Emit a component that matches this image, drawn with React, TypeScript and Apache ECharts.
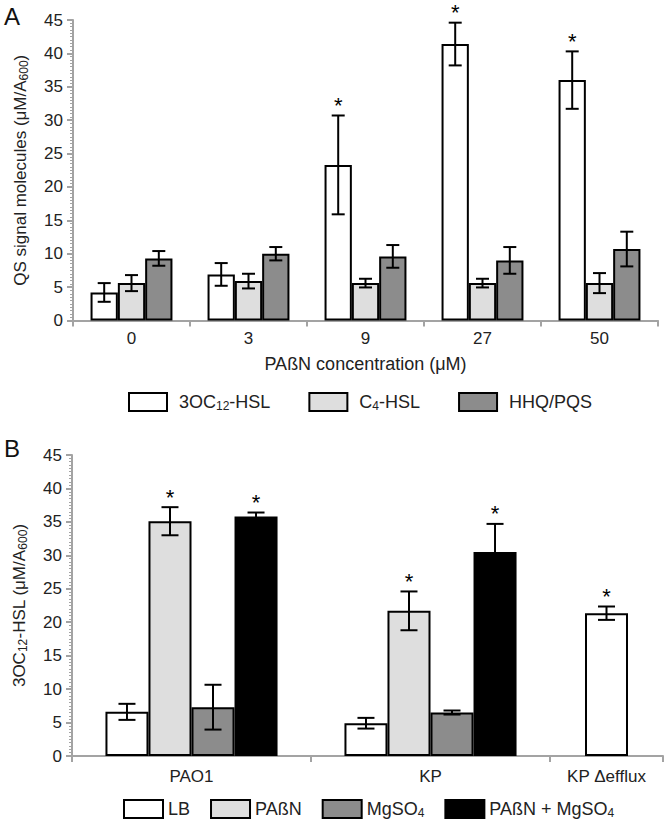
import React, { useEffect, useRef } from "react";
import * as echarts from "echarts";

const FONT = "'Liberation Sans', Arial, sans-serif";

// Panel A
const catsA = ["0", "3", "9", "27", "50"];
const oc12A = [4.2, 6.9, 23.3, 41.4, 36.0];
const oc12ErrA = [1.4, 1.7, 7.4, 3.2, 4.3];
const oc12SigA = [0, 0, 1, 1, 1];
const c4A = [5.6, 5.9, 5.6, 5.6, 5.6];
const c4ErrA = [1.2, 1.1, 0.65, 0.65, 1.5];
const c4SigA = [0, 0, 0, 0, 0];
const hhqA = [9.3, 10.0, 9.6, 9.0, 10.7];
const hhqErrA = [1.1, 1.0, 1.7, 2.0, 2.6];
const hhqSigA = [0, 0, 0, 0, 0];
const seriesNamesA = ["3OC12-HSL", "C4-HSL", "HHQ/PQS"];

// Panel B
const catsB = ["PAO1", "KP"];
const lbB = [6.6, 4.9];
const lbErrB = [1.2, 0.8];
const lbSigB = [0, 0];
const pabnB = [35.1, 21.7];
const pabnErrB = [2.1, 2.9];
const pabnSigB = [1, 1];
const mgB = [7.3, 6.5];
const mgErrB = [3.35, 0.3];
const mgSigB = [0, 0];
const bothB = [35.8, 30.5];
const bothErrB = [0.6, 4.2];
const bothSigB = [1, 1];
const catsB2 = ["KP \u0394efflux"];
const lbB2 = [21.35];
const lbErrB2 = [1.0];
const lbSigB2 = [1];
const seriesNamesB = ["LB", "PA\u00dfN", "MgSO4", "PA\u00dfN + MgSO4"];

const yTicks = { min: 0, max: 45, interval: 5 };

const colors = {
  white: "#ffffff",
  light: "#dedede",
  dark: "#8c8c8c",
  black: "#000000",
};

function errSeries(
  axisIdx: number,
  vals: number[],
  errs: number[],
  sigs: number[],
  k: number,
  n: number,
  gap: number,
  capW: number
) {
  return {
    type: "custom",
    xAxisIndex: axisIdx,
    yAxisIndex: axisIdx,
    z: 5,
    silent: true,
    encode: { x: 0, y: 1 },
    data: vals.map((v, i) => [i, v, errs[i], sigs[i]]),
    renderItem: (params: any, api: any) => {
      const ci = api.value(0);
      const v = api.value(1);
      const e = api.value(2);
      const s = api.value(3);
      const c = api.coord([ci, v]);
      const catW = api.size([1, 0])[0];
      const groupW = catW * (1 - gap);
      const bw = n === 1 ? groupW : groupW / n;
      const x = n === 1 ? c[0] : c[0] - groupW / 2 + (k + 0.5) * bw;
      const top = api.coord([ci, v + e])[1];
      const bot = api.coord([ci, v - e])[1];
      const ls = { stroke: "#000", lineWidth: 2 };
      const children: any[] = [
        { type: "line", shape: { x1: x, y1: top, x2: x, y2: bot }, style: ls },
        { type: "line", shape: { x1: x - capW / 2, y1: top, x2: x + capW / 2, y2: top }, style: ls },
        { type: "line", shape: { x1: x - capW / 2, y1: bot, x2: x + capW / 2, y2: bot }, style: ls },
      ];
      if (s) {
        children.push({
          type: "text",
          style: {
            text: "*",
            x: x,
            y: top + 1,
            align: "center",
            verticalAlign: "bottom",
            fontSize: 22,
            fontFamily: FONT,
            fill: "#000",
          },
        });
      }
      return { type: "group", children };
    },
  };
}

function barSeries(name: string, axisIdx: number, data: number[], color: string, gap: string, barWidth?: number) {
  const s: any = {
    name,
    type: "bar",
    xAxisIndex: axisIdx,
    yAxisIndex: axisIdx,
    data,
    barGap: "0%",
    barCategoryGap: gap,
    itemStyle: { color, borderColor: "#000", borderWidth: 2 },
  };
  if (barWidth) s.barWidth = barWidth;
  return s;
}

const axisGray = "#a3a3a3";
const labelColor = "#222";

function yAxis(gridIndex: number, name: string, show = true) {
  return {
    type: "value",
    gridIndex,
    show,
    ...yTicks,
    name,
    nameLocation: "middle",
    nameGap: 43,
    nameTextStyle: {
      fontSize: 17,
      color: labelColor,
      fontFamily: FONT,
      lineHeight: 20,
      rich: {
        sub: { fontSize: 12, lineHeight: 9, verticalAlign: "bottom", fontFamily: FONT, color: labelColor },
      },
    },
    axisLine: { show: true, lineStyle: { color: axisGray, width: 2 } },
    axisTick: { show: true, length: 6, lineStyle: { color: axisGray, width: 2 } },
    minorTick: { show: true, splitNumber: 10, length: 3, lineStyle: { color: axisGray, width: 1 } },
    splitLine: { show: false },
    axisLabel: { fontSize: 17, color: labelColor, fontFamily: FONT, margin: 10 },
  };
}

function xAxis(gridIndex: number, cats: string[], margin: number, extra: any = {}) {
  return {
    type: "category",
    gridIndex,
    data: cats,
    axisLine: { show: true, lineStyle: { color: axisGray, width: 2 } },
    axisTick: { show: true, length: 6, interval: 0, lineStyle: { color: axisGray, width: 2 } },
    axisLabel: { fontSize: 17, color: labelColor, fontFamily: FONT, margin, interval: 0 },
    ...extra,
  };
}

export default function App() {
  const ref = useRef<HTMLDivElement>(null);
  useEffect(() => {
    if (!ref.current) return;
    const chart = echarts.init(ref.current, null, { renderer: "svg" });
    const legendText = {
      fontSize: 18,
      color: labelColor,
      fontFamily: FONT,
      rich: {
        sub: { fontSize: 12, verticalAlign: "bottom", lineHeight: 9, fontFamily: FONT, color: labelColor },
        t: { fontSize: 18, lineHeight: 20, fontFamily: FONT, color: labelColor },
      },
    };
    const fmt = (name: string) => {
      const m: Record<string, string> = {
        "3OC12-HSL": "{t|3OC}{sub|12}{t|-HSL}",
        "C4-HSL": "{t|C}{sub|4}{t|-HSL}",
        MgSO4: "{t|MgSO}{sub|4}",
        "PA\u00dfN + MgSO4": "{t|PA\u00dfN + MgSO}{sub|4}",
      };
      return m[name] || "{t|" + name + "}";
    };
    const gapA = 0.3;
    const gapB = 0.28;
    const option: any = {
      animation: false,
      backgroundColor: "#fff",
      textStyle: { fontFamily: FONT },
      graphic: [
        { type: "text", left: 4, top: 4, style: { text: "A", fontSize: 24, fontFamily: FONT, fill: "#111" } },
        { type: "text", left: 4, top: 436, style: { text: "B", fontSize: 24, fontFamily: FONT, fill: "#111" } },
      ],
      legend: [
        {
          data: seriesNamesA,
          left: 128,
          top: 392,
          padding: 0,
          itemWidth: 38,
          itemHeight: 18,
          itemGap: 38,
          icon: "rect",
          formatter: fmt,
          textStyle: { ...legendText, padding: [0, 0, 0, 7] },
          itemStyle: { borderColor: "#000", borderWidth: 2 },
        },
        {
          data: seriesNamesB,
          left: 123,
          top: 799,
          padding: 0,
          itemWidth: 39,
          itemHeight: 18,
          itemGap: 20,
          icon: "rect",
          formatter: fmt,
          textStyle: legendText,
          itemStyle: { borderColor: "#000", borderWidth: 2 },
        },
      ],
      grid: [
        { left: 73, top: 20, width: 585, height: 300.5 },
        { left: 72, top: 455, width: 478, height: 301 },
        { left: 550, top: 455, width: 113, height: 301 },
      ],
      xAxis: [
        xAxis(0, catsA, 9, {
          name: "PA\u00dfN concentration (\u03bcM)",
          nameLocation: "middle",
          nameGap: 34,
          nameTextStyle: { fontSize: 18, color: labelColor, fontFamily: FONT },
        }),
        xAxis(1, catsB, 12),
        xAxis(2, catsB2, 12),
      ],
      yAxis: [
        yAxis(0, "QS signal molecules (\u03bcM/A{sub|600})"),
        yAxis(1, "3OC{sub|12}-HSL (\u03bcM/A{sub|600})"),
        yAxis(2, "", false),
      ],
      series: [
        barSeries(seriesNamesA[0], 0, oc12A, colors.white, "30%"),
        barSeries(seriesNamesA[1], 0, c4A, colors.light, "30%"),
        barSeries(seriesNamesA[2], 0, hhqA, colors.dark, "30%"),
        errSeries(0, oc12A, oc12ErrA, oc12SigA, 0, 3, gapA, 13),
        errSeries(0, c4A, c4ErrA, c4SigA, 1, 3, gapA, 13),
        errSeries(0, hhqA, hhqErrA, hhqSigA, 2, 3, gapA, 13),
        barSeries(seriesNamesB[0], 1, lbB, colors.white, "28%"),
        barSeries(seriesNamesB[1], 1, pabnB, colors.light, "28%"),
        barSeries(seriesNamesB[2], 1, mgB, colors.dark, "28%"),
        barSeries(seriesNamesB[3], 1, bothB, colors.black, "28%"),
        errSeries(1, lbB, lbErrB, lbSigB, 0, 4, gapB, 17),
        errSeries(1, pabnB, pabnErrB, pabnSigB, 1, 4, gapB, 17),
        errSeries(1, mgB, mgErrB, mgSigB, 2, 4, gapB, 17),
        errSeries(1, bothB, bothErrB, bothSigB, 3, 4, gapB, 17),
        barSeries(seriesNamesB[0], 2, lbB2, colors.white, "0%", 43),
        errSeries(2, lbB2, lbErrB2, lbSigB2, 0, 1, 0, 17),
      ],
    };
    chart.setOption(option);
    return () => chart.dispose();
  }, []);
  return (
    <div
      ref={ref}
      style={{ position: "absolute", left: 0, top: 0, width: 666, height: 823, background: "#fff" }}
    />
  );
}
